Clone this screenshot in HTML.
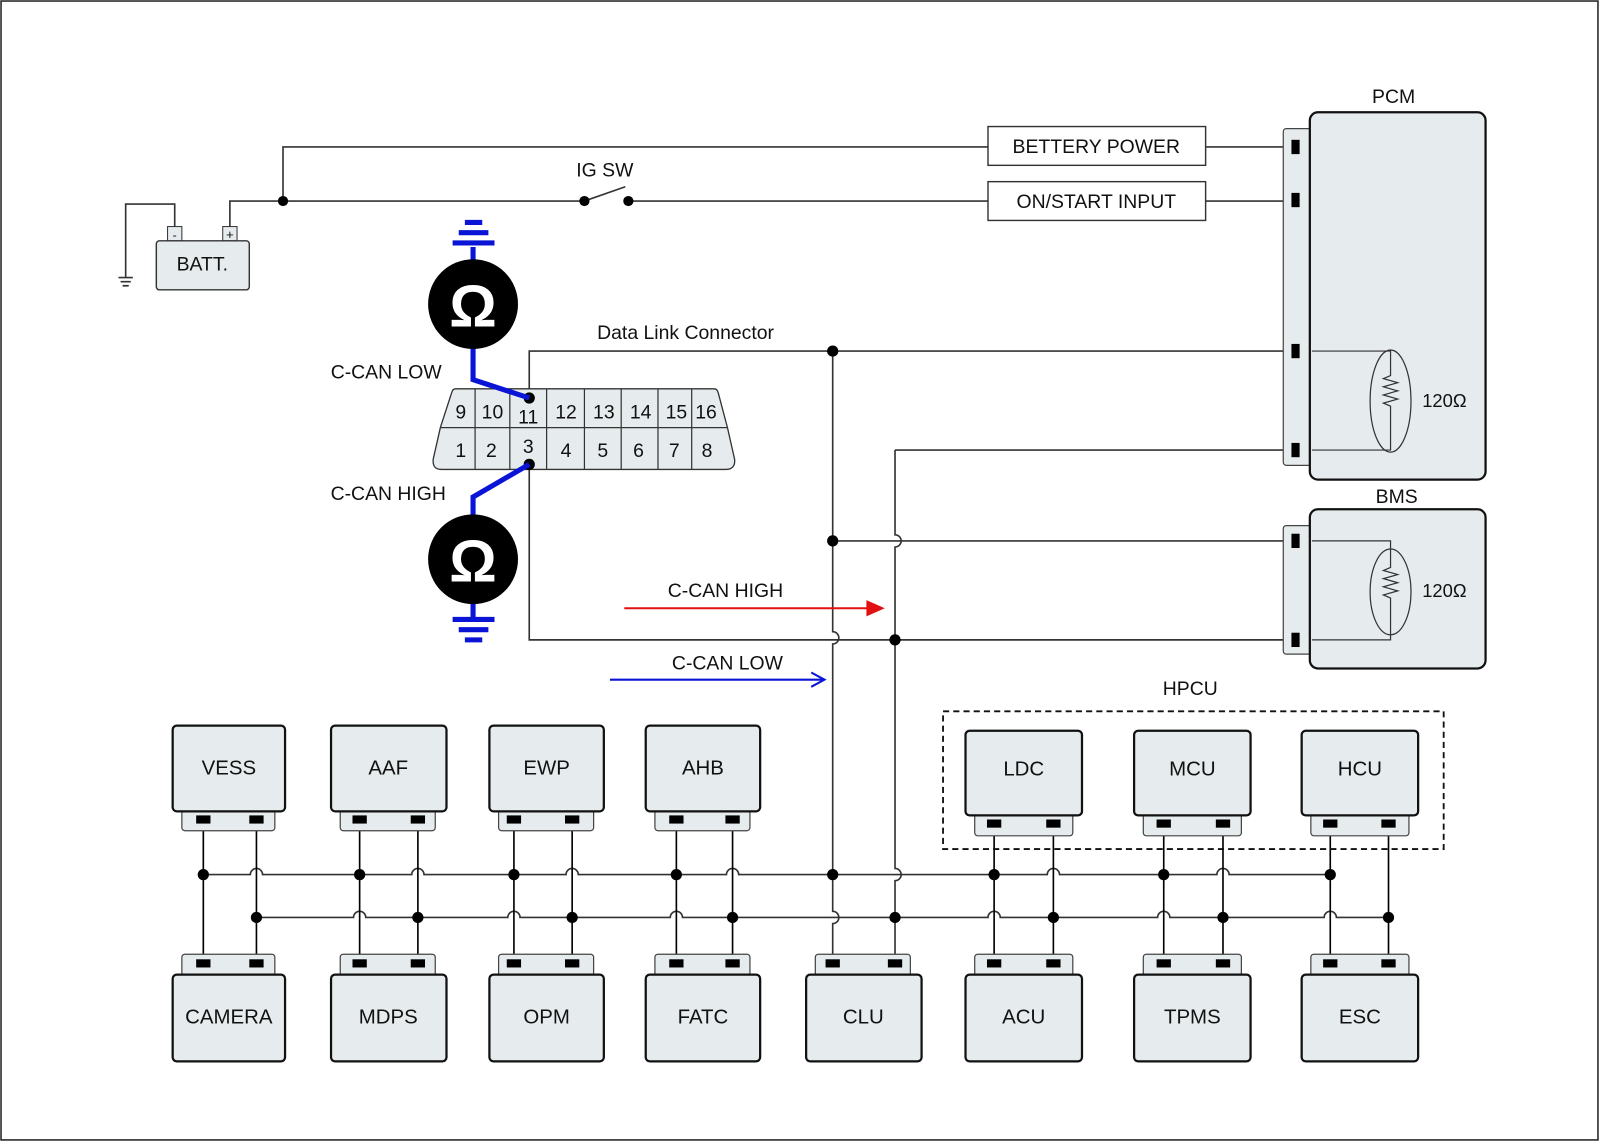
<!DOCTYPE html>
<html><head><meta charset="utf-8"><style>
html,body{margin:0;padding:0;background:#fff}
svg{display:block}
text{font-family:"Liberation Sans",sans-serif;fill:#111}
</style></head><body>
<svg width="1600" height="1143" viewBox="0 0 1566 1120" preserveAspectRatio="none" xmlns="http://www.w3.org/2000/svg">
<rect x="1" y="1" width="1563" height="1116" fill="#fff" stroke="#222" stroke-width="1.5"/>
<g fill="none" stroke="#333" stroke-width="1.6">
<path d="M277 197 V144 H967 M1180 144 H1264"/>
<path d="M225 222 V197 H572 L612 183 M615 197 H967 M1180 197 H1264"/>
<path d="M171 222 V200 H123 V272"/>
<path d="M116 272 H130 M118 276 H128 M120 280 H126"/>
<path d="M518 390 V344 H1264"/>
<path d="M518 455 V627 H1264"/>
<path d="M876 441 H1264"/>
<path d="M815 530 H1264"/>
<path d="M815 344 V619 a6 6 0 0 1 0 12 V893 a6 6 0 0 1 0 12 V944"/>
<path d="M876 441 V524 a6 6 0 0 1 0 12 V851 a6 6 0 0 1 0 12 V944"/>
<path d="M199 857 H245 a6 6 0 0 1 12 0 H403 a6 6 0 0 1 12 0 H554 a6 6 0 0 1 12 0 H711 a6 6 0 0 1 12 0 H1025 a6 6 0 0 1 12 0 H1191 a6 6 0 0 1 12 0 H1302"/>
<path d="M251 899 H346 a6 6 0 0 1 12 0 H497 a6 6 0 0 1 12 0 H656 a6 6 0 0 1 12 0 H967 a6 6 0 0 1 12 0 H1133 a6 6 0 0 1 12 0 H1296 a6 6 0 0 1 12 0 H1359"/>
</g>
<g stroke="#000" stroke-width="1.6">
<path d="M199 803 V944 M251 803 V944 M352 803 V944 M409 803 V944 M503 803 V944 M560 803 V944 M662 803 V944 M717 803 V944 M973 803 V944 M1031 803 V944 M1139 803 V944 M1197 803 V944 M1302 803 V944 M1359 803 V944"/>
</g>
<g fill="#000">
<circle cx="277" cy="197" r="5"/><circle cx="572" cy="197" r="5"/><circle cx="615" cy="197" r="5"/>
<circle cx="815" cy="344" r="5.5"/><circle cx="815" cy="530" r="5.5"/><circle cx="876" cy="627" r="5.5"/>
<circle cx="199" cy="857" r="5.5"/><circle cx="352" cy="857" r="5.5"/><circle cx="503" cy="857" r="5.5"/><circle cx="662" cy="857" r="5.5"/><circle cx="815" cy="857" r="5.5"/><circle cx="973" cy="857" r="5.5"/><circle cx="1139" cy="857" r="5.5"/><circle cx="1302" cy="857" r="5.5"/>
<circle cx="251" cy="899" r="5.5"/><circle cx="409" cy="899" r="5.5"/><circle cx="560" cy="899" r="5.5"/><circle cx="717" cy="899" r="5.5"/><circle cx="876" cy="899" r="5.5"/><circle cx="1031" cy="899" r="5.5"/><circle cx="1197" cy="899" r="5.5"/><circle cx="1359" cy="899" r="5.5"/>
</g>
<rect x="164" y="222" width="14" height="14" fill="#e6ecee" stroke="#333"/>
<rect x="218" y="222" width="14" height="14" fill="#e6ecee" stroke="#333"/>
<text x="171" y="234" font-size="12" text-anchor="middle">-</text>
<text x="225" y="234" font-size="13" text-anchor="middle">+</text>
<rect x="153" y="236" width="91" height="48" rx="3" fill="#e6ecee" stroke="#333" stroke-width="1.4"/>
<text x="198" y="265" font-size="19" text-anchor="middle">BATT.</text>
<text x="592" y="173" font-size="19" text-anchor="middle">IG SW</text>
<rect x="967" y="124" width="213" height="38" fill="#fff" stroke="#333" stroke-width="1.4"/>
<text x="1073" y="150" font-size="19" text-anchor="middle">BETTERY POWER</text>
<rect x="967" y="178" width="213" height="38" fill="#fff" stroke="#333" stroke-width="1.4"/>
<text x="1073" y="204" font-size="19" text-anchor="middle">ON/START INPUT</text>
<text x="1364" y="101" font-size="19" text-anchor="middle">PCM</text>
<rect x="1256" y="126" width="30" height="330" rx="3" fill="#e6ecee" stroke="#444" stroke-width="1.2"/>
<rect x="1282" y="110" width="172" height="360" rx="8" fill="#e6ecee" stroke="#111" stroke-width="2.2"/>
<g fill="#000"><rect x="1264" y="137" width="8" height="14"/><rect x="1264" y="189" width="8" height="14"/><rect x="1264" y="337" width="8" height="14"/><rect x="1264" y="434" width="8" height="14"/>
<rect x="1264" y="523" width="8" height="14"/><rect x="1264" y="620" width="8" height="14"/></g>
<g fill="none" stroke="#333" stroke-width="1.2">
<path d="M1284 344 H1361 V368 l-7 3 l14 4 l-14 4 l14 4 l-14 4 l14 4 l-14 4 l7 3 V441 H1284"/>
<ellipse cx="1361" cy="393" rx="20" ry="50"/>
</g>
<text x="1392" y="399" font-size="18">120Ω</text>
<text x="1367" y="493" font-size="19" text-anchor="middle">BMS</text>
<rect x="1256" y="515" width="30" height="126" rx="3" fill="#e6ecee" stroke="#444" stroke-width="1.2"/>
<rect x="1282" y="499" width="172" height="156" rx="8" fill="#e6ecee" stroke="#111" stroke-width="2.2"/>
<g fill="#000"><rect x="1264" y="523" width="8" height="14"/><rect x="1264" y="620" width="8" height="14"/></g>
<g fill="none" stroke="#333" stroke-width="1.2">
<path d="M1284 530 H1361 V556 l-7 3 l14 4 l-14 4 l14 4 l-14 4 l14 4 l-14 4 l7 3 V627 H1284"/>
<ellipse cx="1361" cy="580" rx="20" ry="42"/>
</g>
<text x="1392" y="585" font-size="18">120Ω</text>
<!-- DLC -->
<path d="M446 381 H699 Q702 381 703 385 L712 419 L719 450 Q720 460 710 460 H432 Q423 460 424 450 L431 419 L442 385 Q443 381 446 381 Z" fill="#e6ecee" stroke="#333" stroke-width="1.3"/>
<path d="M431 419 H712 M465 381 V460 M499 381 V460 M535 381 V460 M572 381 V460 M608 381 V460 M644 381 V460 M677 381 V460" stroke="#333" stroke-width="1.2" fill="none"/>
<g font-size="19" text-anchor="middle">
<text x="451" y="410">9</text><text x="482" y="410">10</text><text x="517" y="415">11</text><text x="554" y="410">12</text><text x="591" y="410">13</text><text x="627" y="410">14</text><text x="662" y="410">15</text><text x="691" y="410">16</text>
<text x="451" y="448">1</text><text x="481" y="448">2</text><text x="517" y="444">3</text><text x="554" y="448">4</text><text x="590" y="448">5</text><text x="625" y="448">6</text><text x="660" y="448">7</text><text x="692" y="448">8</text>
</g>
<g fill="#000"><circle cx="518" cy="390" r="5.5"/><circle cx="518" cy="455" r="5.5"/></g>
<text x="671" y="332" font-size="19" text-anchor="middle">Data Link Connector</text>
<text x="378" y="371" font-size="19" text-anchor="middle">C-CAN LOW</text>
<text x="380" y="490" font-size="19" text-anchor="middle">C-CAN HIGH</text>
<g stroke="#0a14d6" stroke-width="5" fill="none" stroke-linecap="butt">
<path d="M463 242 V256 M463 340 V372 L518 390"/>
<path d="M518 455 L463 487 V506 M463 590 V607"/>
<path d="M455 218 H472 M449 228 H478 M443 238 H484"/>
<path d="M443 607 H484 M449 617 H478 M455 627 H472"/>
</g>
<circle cx="463" cy="298" r="44" fill="#000"/>
<circle cx="463" cy="548" r="44" fill="#000"/>
<text x="463" y="320" font-size="58" font-weight="bold" text-anchor="middle" style="fill:#fff">Ω</text>
<text x="463" y="570" font-size="58" font-weight="bold" text-anchor="middle" style="fill:#fff">Ω</text>
<text x="710" y="585" font-size="19" text-anchor="middle">C-CAN HIGH</text>
<path d="M611 596 H850" stroke="#e21010" stroke-width="2"/>
<path d="M848 588 L866 596 L848 604 Z" fill="#e21010"/>
<text x="712" y="656" font-size="19" text-anchor="middle">C-CAN  LOW</text>
<path d="M597 666 H806" stroke="#0a14d6" stroke-width="2"/>
<path d="M794 659 L807 666 L794 673" stroke="#0a14d6" stroke-width="2" fill="none"/>
<rect x="923" y="697" width="490" height="135" fill="none" stroke="#111" stroke-width="1.8" stroke-dasharray="6 4"/>
<text x="1165" y="681" font-size="19" text-anchor="middle">HPCU</text>
<g fill="#e6ecee">
<g stroke="#444" stroke-width="1.2">
<rect x="178" y="790" width="91" height="24" rx="3"/><rect x="333" y="790" width="93" height="24" rx="3"/><rect x="488" y="790" width="93" height="24" rx="3"/><rect x="641" y="790" width="93" height="24" rx="3"/>
<rect x="954" y="795" width="96" height="24" rx="3"/><rect x="1119" y="795" width="96" height="24" rx="3"/><rect x="1283" y="795" width="96" height="24" rx="3"/>
<rect x="178" y="935" width="91" height="25" rx="3"/><rect x="333" y="935" width="93" height="25" rx="3"/><rect x="488" y="935" width="93" height="25" rx="3"/><rect x="641" y="935" width="93" height="25" rx="3"/><rect x="798" y="935" width="93" height="25" rx="3"/>
<rect x="954" y="935" width="96" height="25" rx="3"/><rect x="1119" y="935" width="96" height="25" rx="3"/><rect x="1283" y="935" width="96" height="25" rx="3"/>
</g>
<g stroke="#111" stroke-width="2.2">
<rect x="169" y="711" width="110" height="84" rx="4"/><rect x="324" y="711" width="113" height="84" rx="4"/><rect x="479" y="711" width="112" height="84" rx="4"/><rect x="632" y="711" width="112" height="84" rx="4"/>
<rect x="945" y="716" width="114" height="83" rx="4"/><rect x="1110" y="716" width="114" height="83" rx="4"/><rect x="1274" y="716" width="114" height="83" rx="4"/>
<rect x="169" y="955" width="110" height="85" rx="4"/><rect x="324" y="955" width="113" height="85" rx="4"/><rect x="479" y="955" width="112" height="85" rx="4"/><rect x="632" y="955" width="112" height="85" rx="4"/><rect x="789" y="955" width="113" height="85" rx="4"/>
<rect x="945" y="955" width="114" height="85" rx="4"/><rect x="1110" y="955" width="114" height="85" rx="4"/><rect x="1274" y="955" width="114" height="85" rx="4"/>
</g>
</g>
<g fill="#000">
<rect x="192" y="799" width="14" height="8"/><rect x="244" y="799" width="14" height="8"/><rect x="345" y="799" width="14" height="8"/><rect x="402" y="799" width="14" height="8"/><rect x="496" y="799" width="14" height="8"/><rect x="553" y="799" width="14" height="8"/><rect x="655" y="799" width="14" height="8"/><rect x="710" y="799" width="14" height="8"/>
<rect x="966" y="803" width="14" height="8"/><rect x="1024" y="803" width="14" height="8"/><rect x="1132" y="803" width="14" height="8"/><rect x="1190" y="803" width="14" height="8"/><rect x="1295" y="803" width="14" height="8"/><rect x="1352" y="803" width="14" height="8"/>
<rect x="192" y="940" width="14" height="8"/><rect x="244" y="940" width="14" height="8"/><rect x="345" y="940" width="14" height="8"/><rect x="402" y="940" width="14" height="8"/><rect x="496" y="940" width="14" height="8"/><rect x="553" y="940" width="14" height="8"/><rect x="655" y="940" width="14" height="8"/><rect x="710" y="940" width="14" height="8"/><rect x="808" y="940" width="14" height="8"/><rect x="869" y="940" width="14" height="8"/>
<rect x="966" y="940" width="14" height="8"/><rect x="1024" y="940" width="14" height="8"/><rect x="1132" y="940" width="14" height="8"/><rect x="1190" y="940" width="14" height="8"/><rect x="1295" y="940" width="14" height="8"/><rect x="1352" y="940" width="14" height="8"/>
</g>
<g font-size="20" text-anchor="middle">
<text x="224" y="759">VESS</text><text x="380" y="759">AAF</text><text x="535" y="759">EWP</text><text x="688" y="759">AHB</text>
<text x="1002" y="760">LDC</text><text x="1167" y="760">MCU</text><text x="1331" y="760">HCU</text>
<text x="224" y="1003">CAMERA</text><text x="380" y="1003">MDPS</text><text x="535" y="1003">OPM</text><text x="688" y="1003">FATC</text><text x="845" y="1003">CLU</text>
<text x="1002" y="1003">ACU</text><text x="1167" y="1003">TPMS</text><text x="1331" y="1003">ESC</text>
</g>
</svg>
</body></html>
